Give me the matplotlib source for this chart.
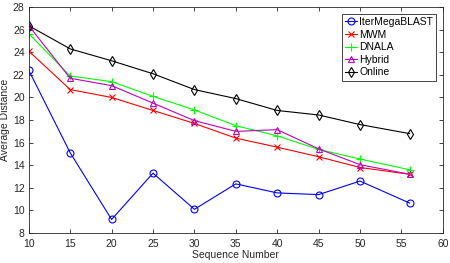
import numpy as np
import matplotlib
matplotlib.use('Agg')
from matplotlib import pyplot as plt

plt.rcParams['font.family'] = ['Liberation Sans', 'DejaVu Sans']

seq = [10, 15, 20, 25, 30, 35, 40, 45, 50, 56]
iter_megablast = [22.4, 15.1, 9.2, 13.3, 10.1, 12.35, 11.55, 11.4, 12.6, 10.65]
mwm = [24.1, 20.7, 20.0, 18.85, 17.7, 16.4, 15.6, 14.75, 13.8, 13.2]
dnala = [25.65, 21.9, 21.4, 20.1, 18.9, 17.5, 16.6, 15.4, 14.55, 13.6]
hybrid = [26.35, 21.7, 21.05, 19.5, 17.95, 17.0, 17.15, 15.45, 14.05, 13.2]
online = [26.35, 24.3, 23.25, 22.1, 20.7, 19.9, 18.85, 18.45, 17.6, 16.8]

fig = plt.figure(figsize=(4.5, 2.63), dpi=100)
ax = fig.add_axes([0.064, 0.114, 0.92, 0.859])

ms = 5
ax.plot(seq, iter_megablast, '-o', color='b', lw=0.8, ms=ms, mfc='none', mew=0.8, label='IterMegaBLAST')
ax.plot(seq, mwm, '-x', color='r', lw=0.8, ms=ms - 1, mew=0.8, label='MWM')
ax.plot(seq, dnala, '-+', color=(0, 1, 0), lw=0.8, ms=ms + 1, mew=0.8, label='DNALA')
ax.plot(seq, hybrid, '-^', color='m', lw=0.8, ms=ms, mfc='none', mew=0.8, label='Hybrid')
ax.plot(seq, online, '-d', color='k', lw=0.8, ms=ms, mfc='none', mew=0.8, label='Online')

ax.set_xlim(10, 60)
ax.set_ylim(8, 28)
ax.set_xticks(np.arange(10, 61, 5))
ax.set_yticks(np.arange(8, 29, 2))
ax.tick_params(direction='in', top=True, right=True, labelsize=7.5, length=3, width=0.6, colors='#262626')
ax.tick_params(axis='x', pad=4)
ax.tick_params(axis='y', pad=3)
for s in ax.spines.values():
    s.set_linewidth(0.6)
    s.set_color('#262626')

ax.set_xlabel('Sequence Number', fontsize=7.5, labelpad=1, color='#262626')
ax.set_ylabel('Average Distance', fontsize=7.5, labelpad=2, color='#262626')

leg = ax.legend(loc='upper right', fontsize=7.5, fancybox=False, framealpha=1,
                edgecolor='#262626', handlelength=1.1, handletextpad=0.2,
                borderpad=0.3, labelspacing=0.25, borderaxespad=0.65)
leg.get_frame().set_linewidth(0.6)

fig.savefig('out.png', dpi=100)
